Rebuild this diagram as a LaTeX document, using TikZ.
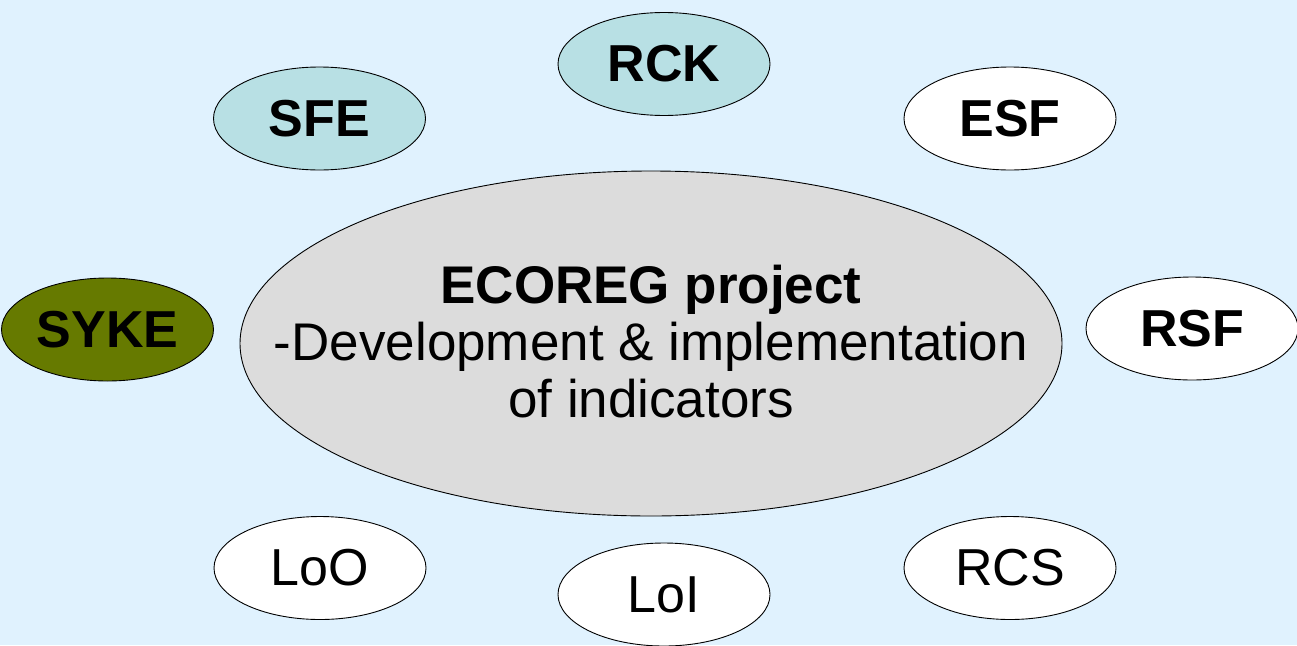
\documentclass[tikz,border=0pt]{standalone}
\usepackage{fontspec}
\setmainfont{Liberation Sans}
\usetikzlibrary{shapes.geometric}
\definecolor{bgblue}{RGB}{224,242,254}
\definecolor{tealfill}{RGB}{184,224,228}
\definecolor{olivefill}{RGB}{102,122,0}
\definecolor{grayfill}{RGB}{220,220,220}
\tikzset{
  partner/.style={ellipse, draw=black, line width=0.9pt, inner sep=0pt,
    minimum width=212pt, minimum height=103pt,
    font=\fontsize{52}{57}\selectfont},
  hub/.style={ellipse, draw=black, line width=0.9pt, inner sep=0pt,
    minimum width=822pt, minimum height=345pt, fill=grayfill},
  hubtext/.style={inner sep=0pt, align=center, font=\fontsize{53}{57}\selectfont}
}
\begin{document}
\begin{tikzpicture}[x=1pt,y=-1pt]
\fill[bgblue] (0,0) rectangle (1297,645);
\useasboundingbox (0,0) rectangle (1297,645);
\node[hub] (hub) at (651,343.5) {};
\node[hubtext] (hublabel) at ([yshift=2pt]hub.center) {\textbf{ECOREG project}\\-Development \& implementation\\of indicators};
\node[partner, fill=tealfill] (rck) at (664,64) {\textbf{RCK}};
\node[partner, fill=tealfill] (sfe) at (319.5,118.5) {\textbf{SFE}};
\node[partner, fill=white] (esf) at (1010,118.5) {\textbf{ESF}};
\node[partner, fill=olivefill] (syke) at (107.5,329.5) {\textbf{SYKE}};
\node[partner, fill=white] (rsf) at (1192,328.5) {\textbf{RSF}};
\node[partner, fill=white] (loo) at (320,568) {LoO};
\node[partner, fill=white] (loi) at (664,594.5) {LoI};
\node[partner, fill=white] (rcs) at (1010,568) {RCS};
\end{tikzpicture}
\end{document}
